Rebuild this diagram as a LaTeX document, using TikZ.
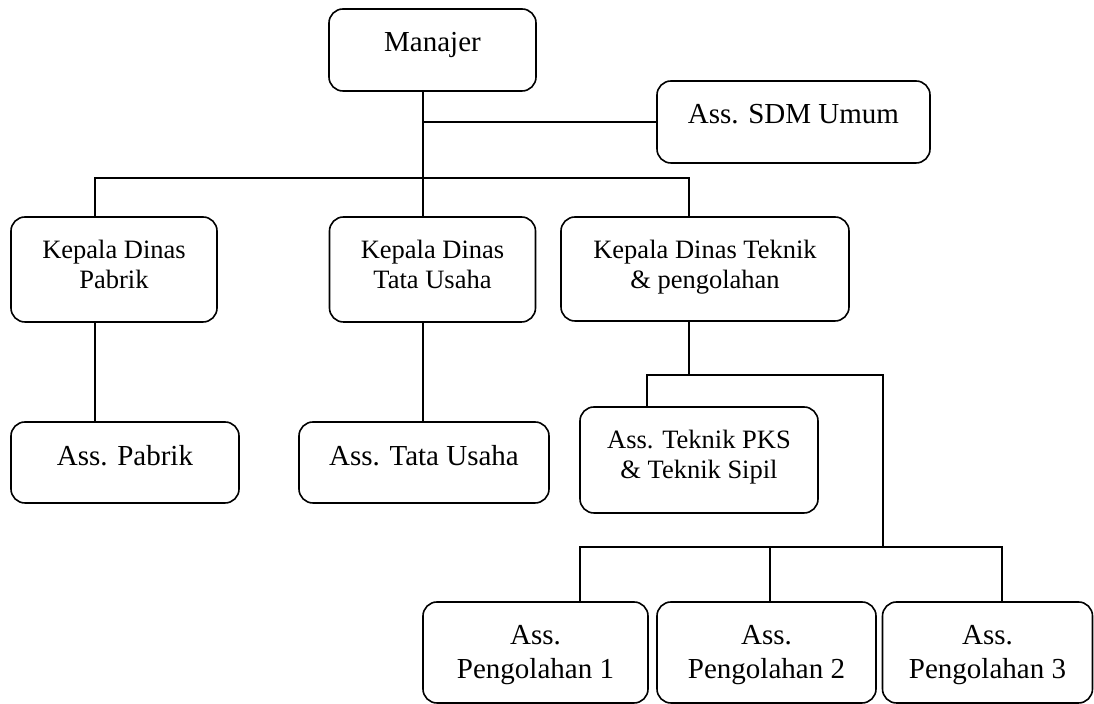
\documentclass[tikz,border=0pt]{standalone}
\usepackage{fontspec}
\setmainfont{Liberation Serif}
\begin{document}
\begin{tikzpicture}[x=0.5pt,y=-0.5pt,line width=0.7pt,
	jabatan/.style 2 args={draw,rounded corners=7pt,line width=0.8pt,minimum width=#1,minimum height=#2,inner sep=0pt},
	bigtxt/.style={anchor=north,yshift=-11.5pt,align=center,inner sep=0pt,font=\fontsize{14.5}{17}\selectfont},
	smalltxt/.style={bigtxt,font=\fontsize{13.25}{15}\selectfont}]
\useasboundingbox (0,0) rectangle (1094,704);
\node[jabatan={103.5pt}{41pt},label={[bigtxt]north:Manajer}] (manajer) at (432.5,50) {};
\node[jabatan={136.5pt}{41pt},label={[bigtxt]north:Ass. SDM Umum}] (sdm) at (793.5,122) {};
\node[jabatan={103pt}{52.5pt},label={[smalltxt]north:Kepala Dinas\\Pabrik}] (kdpabrik) at (114,269.5) {};
\node[jabatan={103pt}{52.5pt},label={[smalltxt]north:Kepala Dinas\\Tata Usaha}] (kdtu) at (432.5,269.5) {};
\node[jabatan={144pt}{52pt},label={[smalltxt]north:Kepala Dinas Teknik\\\& pengolahan}] (kdteknik) at (705,269) {};
\node[jabatan={114pt}{40.5pt},label={[bigtxt]north:Ass. Pabrik}] (apabrik) at (125,462.5) {};
\node[jabatan={125pt}{40.5pt},label={[bigtxt]north:Ass. Tata Usaha}] (atu) at (424,462.5) {};
\node[jabatan={119pt}{53pt},label={[smalltxt]north:Ass. Teknik PKS\\\& Teknik Sipil}] (ateknik) at (699,460) {};
\foreach \n/\x/\w in {1/535.5/112.5,2/766.5/109.5,3/987.5/105}{
	\node[jabatan={\w pt}{50.5pt},label={[bigtxt]north:Ass.\\Pengolahan \n}] (olah\n) at (\x,652.5) {};}
\coordinate (bus) at (423,178);
\coordinate (busL) at (95,178);
\coordinate (busR) at (689,178);
\coordinate (tek) at (689,375);
\coordinate (tekL) at (647,375);
\coordinate (tekR) at (883,375);
\coordinate (olahL) at (580,547);
\coordinate (olahM) at (770,547);
\coordinate (olahR) at (1002,547);
\draw (manajer.south -| bus) -- (kdtu.north -| bus);
\draw (bus |- sdm.west) -- (sdm.west);
\draw (kdpabrik.north -| busL) |- (busR) -- (kdteknik.north -| busR);
\draw (kdpabrik.south -| busL) -- (apabrik.north -| busL);
\draw (kdtu.south -| bus) -- (atu.north -| bus);
\draw (kdteknik.south -| tek) -- (tek);
\draw (ateknik.north -| tekL) |- (tekR) -- (olahM -| tekR);
\draw (olah1.north -| olahL) |- (olahR) -- (olah3.north -| olahR);
\draw (olahM) -- (olah2.north -| olahM);
\end{tikzpicture}
\end{document}
